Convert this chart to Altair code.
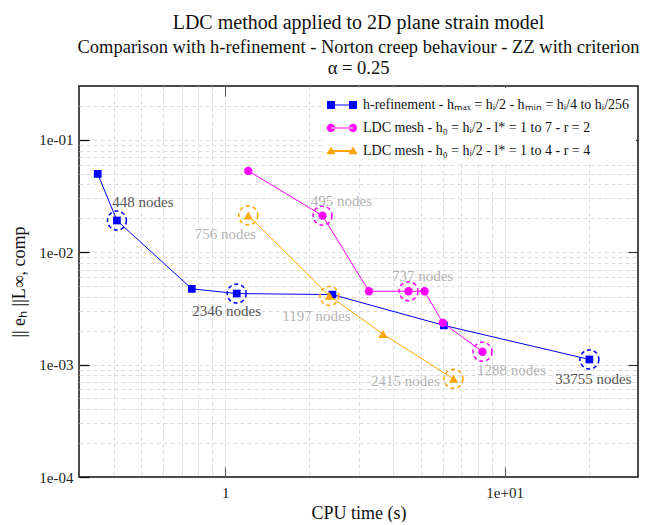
import altair as alt
import pandas as pd

# ---------------- data ----------------
series_names = [
    "h-refinement - hₘₐₓ = hᵢ/2 - hₘᵢₙ = hᵢ/4 to hᵢ/256",
    "LDC mesh - h₀ = hᵢ/2 - l* = 1 to 7 - r = 2",
    "LDC mesh - h₀ = hᵢ/2 - l* = 1 to 4 - r = 4",
]
series_colors = ["#0000ff", "#ff00ff", "#ffa500"]

h_cpu = [0.350, 0.410, 0.760, 1.10, 2.42, 6.06, 20.1]
h_err = [0.0496, 0.0191, 0.00471, 0.00428, 0.00419, 0.00223, 0.00111]
ldc2_cpu = [1.21, 2.23, 3.27, 4.53, 5.17, 6.01, 8.33]
ldc2_err = [0.0527, 0.0211, 0.00449, 0.00449, 0.00449, 0.00235, 0.00130]
ldc4_cpu = [1.21, 2.36, 3.67, 6.56]
ldc4_err = [0.0212, 0.00408, 0.00187, 0.000746]

h_marked = [1, 3, 6]
h_nodes = [448, 2346, 33755]
ldc2_marked = [1, 3, 6]
ldc2_nodes = [495, 737, 1288]
ldc4_marked = [0, 1, 3]
ldc4_nodes = [756, 1197, 2415]

x_major = [1, 10]
y_major = [0.0001, 0.001, 0.01, 0.1]
x_grid = [0.4, 0.5, 0.6, 0.7, 0.8, 0.9, 1, 2, 3, 4, 5, 6, 7, 8, 9, 10, 20]
y_grid = [0.0002, 0.0003, 0.0004, 0.0005, 0.0006, 0.0007, 0.0008, 0.0009,
          0.001, 0.002, 0.003, 0.004, 0.005, 0.006, 0.007, 0.008, 0.009,
          0.01, 0.02, 0.03, 0.04, 0.05, 0.06, 0.07, 0.08, 0.09, 0.1, 0.2]

# ---------------- styles ----------------
FONT = "Liberation Serif"
W, H = 559, 391
xscale = alt.Scale(type="log", domain=[0.3, 30], nice=False)
yscale = alt.Scale(type="log", domain=[0.0001, 0.3], nice=False)

series_style = [
    dict(shape="square", size=60, label_color="#555555",
         offsets=[(26, -18), (-10, 17), (4, 20)]),
    dict(shape="circle", size=70, label_color="#b3b3b3",
         offsets=[(19, -15), (14, -15), (29, 18)]),
    dict(shape="triangle-up", size=85, label_color="#b3b3b3",
         offsets=[(-23, 19), (-13, 20), (-48, 2)]),
]

legend_paths = [
    "M-1.36,-0.36H-0.64V0.36H-1.36Z M0.64,-0.36H1.36V0.36H0.64Z M-1,-0.05H1V0.05H-1Z",
    "M-1.38,0A0.38,0.38 0 1 0 -0.62,0A0.38,0.38 0 1 0 -1.38,0Z "
    "M0.62,0A0.38,0.38 0 1 0 1.38,0A0.38,0.38 0 1 0 0.62,0Z M-1,-0.05H1V0.05H-1Z",
    "M-1.42,0.3L-1,-0.42L-0.58,0.3Z M0.58,0.3L1,-0.42L1.42,0.3Z M-1,-0.09H1V0.09H-1Z",
]


def X(axis=None):
    if axis is None:
        return alt.X("cpu:Q", scale=xscale, axis=None)
    return alt.X("cpu:Q", scale=xscale, axis=axis)


def Y(axis=None):
    if axis is None:
        return alt.Y("err:Q", scale=yscale, axis=None)
    return alt.Y("err:Q", scale=yscale, axis=axis)


all_df = pd.DataFrame({
    "cpu": h_cpu + ldc2_cpu + ldc4_cpu,
    "err": h_err + ldc2_err + ldc4_err,
})

# axis-carrying invisible layers
grid_layer = alt.Chart(all_df).mark_point(opacity=0).encode(
    x=X(alt.Axis(orient="bottom", values=x_grid, grid=True, gridDash=[4, 3],
                 gridColor="#dcdcdc", gridWidth=1, ticks=False, labels=False,
                 domain=False, title=None)),
    y=Y(alt.Axis(orient="left", values=y_grid, grid=True, gridDash=[4, 3],
                 gridColor="#dcdcdc", gridWidth=1, ticks=False, labels=False,
                 domain=False, title=None)),
)

label_layer = alt.Chart(all_df).mark_point(opacity=0).encode(
    x=X(alt.Axis(orient="bottom", values=x_major, grid=False, ticks=False, domain=False,
                 labelExpr="datum.value < 5 ? '1' : '1e+01'",
                 labelFont=FONT, labelFontSize=15, labelColor="#222222",
                 labelPadding=8, title="CPU time (s)", titleFont=FONT,
                 titleFontSize=18, titleFontWeight="normal", titleColor="#111111",
                 titlePadding=4)),
    y=Y(alt.Axis(orient="left", values=y_major, grid=False, ticks=False, domain=False,
                 labelExpr="'1e-0' + round(-log(datum.value) / LN10)",
                 labelFont=FONT, labelFontSize=15, labelColor="#222222",
                 labelPadding=6, title="|| eₕ ||L∞, comp", titleFont=FONT,
                 titleFontSize=18, titleFontWeight="normal", titleColor="#111111",
                 titlePadding=10)),
)

tick_bl_layer = alt.Chart(all_df).mark_point(opacity=0).encode(
    x=X(alt.Axis(orient="bottom", values=x_major, grid=False, labels=False, domain=False,
                 ticks=True, tickSize={"expr": "-10"}, tickColor="#555555",
                 tickWidth=1, title=None)),
    y=Y(alt.Axis(orient="left", values=y_major, grid=False, labels=False, domain=False,
                 ticks=True, tickSize={"expr": "-10"}, tickColor="#111111",
                 tickWidth=1.3, title=None)),
)

tick_tr_layer = alt.Chart(all_df).mark_point(opacity=0).encode(
    x=X(alt.Axis(orient="top", values=x_major, grid=False, labels=False, domain=False,
                 ticks=True, tickSize={"expr": "-10"}, tickColor="#555555",
                 tickWidth=1, title=None)),
    y=Y(alt.Axis(orient="right", values=[0.001, 0.01, 0.1], grid=False, labels=False,
                 domain=False, ticks=True, tickSize={"expr": "-10"},
                 tickColor="#333333", tickWidth=1.2, title=None)),
)

layers = [grid_layer, label_layer, tick_bl_layer, tick_tr_layer]

series_data = [
    (h_cpu, h_err, h_marked, h_nodes),
    (ldc2_cpu, ldc2_err, ldc2_marked, ldc2_nodes),
    (ldc4_cpu, ldc4_err, ldc4_marked, ldc4_nodes),
]

for i, (cpu, err, marked, nodes) in enumerate(series_data):
    st = series_style[i]
    col = series_colors[i]
    df = pd.DataFrame({"cpu": cpu, "err": err})
    line = alt.Chart(df).mark_line(color=col, strokeWidth=1).encode(
        x=X(), y=Y(), order=alt.Order("cpu:Q"))
    pts = alt.Chart(df).mark_point(filled=True, shape=st["shape"], size=st["size"],
                                   color=col, opacity=1).encode(x=X(), y=Y())
    mdf = pd.DataFrame({
        "cpu": [cpu[k] for k in marked],
        "err": [err[k] for k in marked],
        "label": [f"{n} nodes" for n in nodes],
    })
    ring = alt.Chart(mdf).mark_point(shape="circle", filled=False, size=361,
                                     strokeDash=[4, 3], strokeWidth=1.5,
                                     color=col, opacity=1).encode(x=X(), y=Y())
    layers += [line, pts, ring]
    for j in range(len(marked)):
        dx, dy = st["offsets"][j]
        txt = alt.Chart(mdf.iloc[[j]]).mark_text(
            dx=dx, dy=dy, font=FONT, fontSize=15, color=st["label_color"],
            align="center", baseline="middle").encode(x=X(), y=Y(), text="label:N")
        layers.append(txt)

legend_df = pd.DataFrame({"series": series_names, "cpu": [1.0] * 3, "err": [1e-7] * 3})
legend_layer = alt.Chart(legend_df).mark_point(filled=True, clip=True, size=484,
                                               opacity=1).encode(
    x=X(), y=Y(),
    color=alt.Color("series:N", scale=alt.Scale(domain=series_names, range=series_colors),
                    legend=alt.Legend(title=None)),
    shape=alt.Shape("series:N", scale=alt.Scale(domain=series_names, range=legend_paths),
                    legend=alt.Legend(title=None)),
)
layers.append(legend_layer)

chart = alt.layer(*layers).resolve_axis(
    x="independent", y="independent"
).properties(
    width=W, height=H,
    autosize=alt.AutoSizeParams(type="none"),
    padding={"left": 71, "top": 78, "right": 10, "bottom": 45},
    title=alt.Title(
        "LDC method applied to 2D plane strain model",
        subtitle=["Comparison with h-refinement - Norton creep behaviour - ZZ with criterion",
                  "α = 0.25"],
        font=FONT, fontSize=20, fontWeight="normal", color="#111111",
        subtitleFont=FONT, subtitleFontSize=18.5, subtitleColor="#111111",
        subtitlePadding=5, subtitleLineHeight=21, anchor="middle", offset=8,
    ),
).configure_view(
    stroke="#111111", strokeWidth=1.5
).configure_legend(
    orient="top-right", offset=2, padding=6, fillColor="white",
    labelFont=FONT, labelFontSize=14, labelColor="#111111", labelLimit=400,
    symbolSize=484, labelOffset=10, rowPadding=5, symbolStrokeWidth=0,
)

chart.save("out.html", embed_options={"renderer": "svg", "actions": False})
